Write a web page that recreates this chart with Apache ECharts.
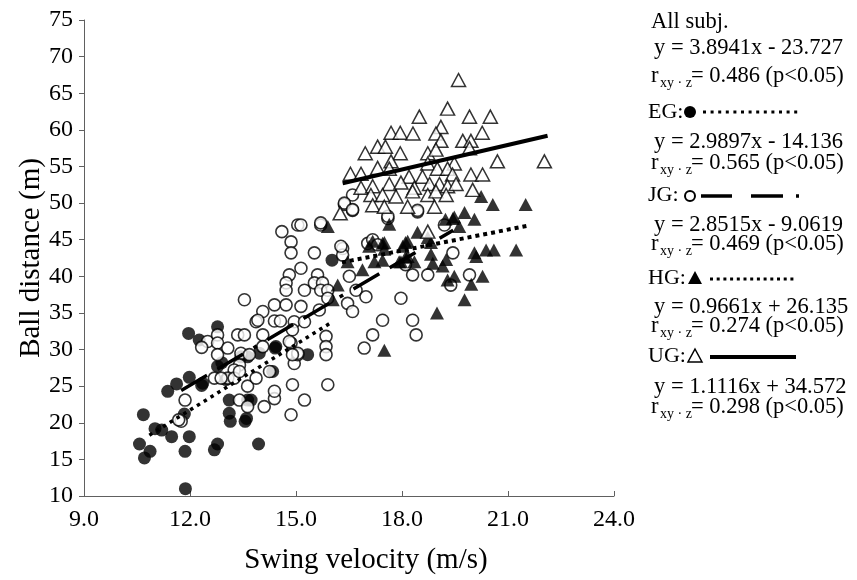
<!DOCTYPE html>
<html>
<head>
<meta charset="utf-8">
<script src="https://cdn.jsdelivr.net/npm/echarts@6/dist/echarts.min.js"></script>
<style>html,body{margin:0;padding:0;background:#fff}#c{width:857px;height:580px}</style>
</head>
<body>
<div id="c"></div>
<script>
// ---- data ----
const egData = [[11.87,11.0],[10.68,21.1],[11.01,19.2],[10.57,17.1],[10.87,16.1],[10.71,15.2],[11.48,18.1],[11.84,21.2],[11.98,18.1],[11.86,16.1],[11.37,24.3],[11.62,25.3],[11.98,26.2],[12.33,25.1],[11.96,32.2],[12.26,31.3],[12.78,33.1],[12.78,27.7],[13.11,23.1],[13.11,21.3],[13.14,20.2],[13.56,20.2],[12.69,16.3],[12.78,17.1],[13.94,17.1],[14.41,30.2],[13.63,23.1],[13.02,25.9],[13.63,29.0],[13.96,29.5],[14.34,27.0],[14.43,30.4],[15.33,29.3],[16.02,42.2],[12.9,28.2],[13.44,29.0],[13.6,20.6],[13.73,23.1],[12.36,25.4],[11.2,19.0]];
const jgData = [[13.54,36.8],[14.06,35.2],[14.39,36.1],[14.72,36.1],[13.87,33.8],[14.39,33.9],[14.56,33.9],[14.95,33.8],[12.5,31.1],[12.33,30.3],[12.78,32.0],[12.78,30.9],[12.78,29.3],[13.07,30.2],[13.35,32.0],[13.54,32.0],[14.06,32.0],[13.44,29.5],[13.68,29.3],[13.4,27.9],[13.25,27.2],[13.07,26.1],[12.69,26.1],[12.88,26.1],[13.25,26.1],[13.4,27.0],[13.63,25.0],[13.87,26.1],[13.4,23.1],[13.63,22.2],[14.1,22.2],[14.39,23.3],[14.39,24.3],[14.25,27.0],[14.86,21.1],[14.9,25.2],[14.95,28.1],[14.86,30.9],[15.05,29.3],[11.86,23.1],[11.75,20.2],[14.9,32.7],[11.68,20.4],
[15.05,47.0],[14.6,46.1],[14.86,44.7],[14.86,43.2],[15.52,43.2],[15.7,47.0],[16.6,49.0],[16.37,49.8],[17.6,47.9],[16.32,43.8],[16.32,42.9],[17.03,44.5],[17.17,45.0],[17.31,44.3],[15.14,41.1],[14.81,40.2],[14.72,39.1],[14.72,38.1],[15.24,38.1],[15.61,40.2],[15.52,39.1],[15.75,39.1],[15.7,38.1],[15.9,38.1],[15.9,37.0],[15.14,35.9],[13.92,34.0],[15.24,33.8],[15.66,35.4],[16.51,40.0],[16.7,38.1],[16.46,36.3],[16.6,35.2],[16.98,37.2],[15.85,31.8],[15.85,30.4],[15.85,29.3],[15.9,25.2],[15.24,23.1],[17.97,37.0],[17.45,34.0],[17.17,32.0],[16.93,30.2],[18.3,34.0],[18.4,32.0],[18.3,40.2],[15.05,29.5],[14.81,31.1],[14.06,30.4],[14.9,29.3],
[18.44,48.8],[19.44,43.2],[18.73,40.2],[19.91,40.2],[19.38,38.8],[19.2,47.0],[18.1,41.6],[16.6,51.1],[16.37,50.0],[16.6,49.1],[15.7,47.3],[17.6,48.2],[18.44,49.0],[15.14,47.0],[16.27,44.1]];
const hgData = [[15.9,46.8],[17.64,47.1],[20.24,50.9],[20.57,49.8],[21.5,49.8],[19.23,47.8],[19.48,48.1],[19.77,48.7],[20.05,47.8],[18.44,46.0],[18.73,45.3],[18.16,44.8],[17.17,44.8],[17.5,44.6],[19.62,46.8],[20.38,43.6],[20.6,43.6],[21.23,43.6],[20.05,43.2],[19.44,47.9],[18.1,44.6],[18.82,44.6],[17.5,43.7],[18.1,42.6],[18.82,43.0],[17.92,42.0],[18.35,42.0],[18.87,41.8],[19.15,41.4],[19.25,42.3],[20.1,42.7],[19.48,40.0],[19.96,38.9],[20.28,40.0],[19.77,36.8],[18.99,35.0],[17.5,29.9],[19.29,39.5],[16.46,42.0],[16.88,40.9],[16.18,38.8],[16.04,36.8],[17.22,42.0],[17.45,42.2],[17.07,44.1],[17.45,44.5],[17.97,42.0],[18.16,42.7],[18.02,44.1]];
const ugData = [[19.6,66.8],[19.29,62.9],[18.49,61.8],[19.91,61.8],[20.5,61.8],[19.1,60.4],[17.69,59.6],[17.95,59.6],[18.31,59.5],[18.96,59.5],[20.27,59.6],[17.31,57.7],[17.53,57.7],[19.72,58.5],[19.95,58.5],[19.1,58.5],[16.96,56.8],[17.95,56.8],[18.73,56.8],[18.96,57.3],[19.91,57.5],[20.7,55.7],[22.03,55.7],[17.69,55.7],[17.31,54.8],[19.48,55.4],[18.73,55.4],[16.54,54.0],[16.84,54.0],[17.64,54.7],[19.0,54.7],[19.29,54.7],[18.2,53.6],[18.58,53.6],[19.43,53.9],[19.95,53.9],[20.28,53.9],[16.84,52.1],[17.17,52.3],[17.64,52.6],[17.97,52.8],[18.35,52.1],[18.78,52.6],[19.06,52.6],[19.29,52.3],[19.53,52.6],[17.12,51.1],[17.45,51.1],[17.83,50.9],[18.3,51.6],[18.73,51.1],[18.96,51.6],[19.25,51.1],[20.0,51.8],[17.17,49.7],[17.5,49.5],[18.16,49.5],[18.92,49.5],[16.25,48.6],[18.73,46.1]];
// regression lines (end points)
const egLine = [[10.85,18.3],[16.0,33.7]];
const jgLine = [[11.75,24.4],[19.45,46.3]];
const hgLine = [[16.3,41.9],[21.55,46.9]];
const ugLine = [[16.32,52.7],[22.12,59.2]];
// axis
const xMin = 9, xMax = 24, xStep = 3;
const yMin = 10, yMax = 75, yStep = 5;
// legend text
const legendLines = [
  ['All subj.', 22],
  ['y = 3.8941x - 23.727', 48],
  ['r|0.486', 76],
  ['y = 2.9897x - 14.136', 142],
  ['r|0.565', 163],
  ['y = 2.8515x - 9.0619', 225],
  ['r|0.469', 244],
  ['y = 0.9661x + 26.135', 307],
  ['r|0.274', 326],
  ['y = 1.1116x + 34.572', 387],
  ['r|0.298', 407]
];
const groupLabels = [['EG:', 112], ['JG:', 195], ['HG:', 278], ['UG:', 356]];

const FONT = "'Liberation Serif','Times New Roman',serif";
const chart = echarts.init(document.getElementById('c'), null, {renderer: 'canvas'});

const graphics = [];
const LX = 651;
const FS = 22.5;
legendLines.forEach(([t, y]) => {
  if (t.startsWith('r|')) {
    const v = t.slice(2);
    graphics.push({type:'text', x:LX, y:y, style:{text:'r', fontSize:FS, fontFamily:FONT, fill:'#000', align:'left', verticalAlign:'middle'}});
    graphics.push({type:'text', x:LX+9, y:y+7, style:{text:'xy · z', fontSize:14, fontFamily:FONT, fill:'#000', align:'left', verticalAlign:'middle'}});
    graphics.push({type:'text', x:LX+40, y:y, style:{text:'= ' + v + ' (p<0.05)', fontSize:FS, fontFamily:FONT, fill:'#000', align:'left', verticalAlign:'middle'}});
  } else {
    graphics.push({type:'text', x:LX + (t.startsWith('y') ? 3 : 0), y:y, style:{text:t, fontSize:FS, fontFamily:FONT, fill:'#000', align:'left', verticalAlign:'middle'}});
  }
});
groupLabels.forEach(([t, y]) => {
  graphics.push({type:'text', x:LX - 3, y:y, style:{text:t, fontSize:22, fontFamily:FONT, fill:'#000', align:'left', verticalAlign:'middle'}});
});
// legend symbols
graphics.push({type:'circle', shape:{cx:690, cy:112, r:6}, style:{fill:'#000'}});
graphics.push({type:'line', shape:{x1:703, y1:112, x2:798, y2:112}, style:{stroke:'#000', lineWidth:3, lineDash:[3,4.6]}});
graphics.push({type:'circle', shape:{cx:690, cy:196, r:5}, style:{fill:'#fff', stroke:'#000', lineWidth:2}});
graphics.push({type:'line', shape:{x1:701, y1:196, x2:800, y2:196}, style:{stroke:'#000', lineWidth:3.5, lineDash:[31,19,32,13,3,50]}});
graphics.push({type:'polygon', shape:{points:[[695,271],[702,284],[688,284]]}, style:{fill:'#000'}});
graphics.push({type:'line', shape:{x1:710, y1:279, x2:796, y2:279}, style:{stroke:'#000', lineWidth:3, lineDash:[3,3.7]}});
graphics.push({type:'polygon', shape:{points:[[695,349],[702,362],[688,362]]}, style:{fill:'#fff', stroke:'#000', lineWidth:1.5}});
graphics.push({type:'line', shape:{x1:710, y1:357, x2:796, y2:357}, style:{stroke:'#000', lineWidth:4}});
// axis titles
graphics.push({type:'text', x:366, y:560, style:{text:'Swing velocity (m/s)', fontSize:29, fontFamily:FONT, fill:'#000', align:'center', verticalAlign:'middle'}});
graphics.push({type:'text', x:31, y:258, rotation:Math.PI/2, style:{text:'Ball distance (m)', fontSize:29, fontFamily:FONT, fill:'#000', align:'center', verticalAlign:'middle'}});

const lineSeries = (data, width, type) => ({
  type:'line', data:data, symbol:'none', showSymbol:false, silent:true, z:10,
  lineStyle:{color:'#000', width:width, type:type, cap:'butt'}
});

chart.setOption({
  animation:false,
  backgroundColor:'#fff',
  grid:{left:84, right:243, top:20, bottom:84, containLabel:false},
  xAxis:{
    type:'value', min:xMin, max:xMax, interval:xStep,
    axisLine:{show:true, lineStyle:{color:'#606060', width:1}},
    axisTick:{show:true, inside:true, length:5, lineStyle:{color:'#606060'}},
    splitLine:{show:false},
    axisLabel:{color:'#000', fontSize:24, fontFamily:FONT, margin:12, formatter:v => v.toFixed(1)}
  },
  yAxis:{
    type:'value', min:yMin, max:yMax, interval:yStep,
    axisLine:{show:true, lineStyle:{color:'#606060', width:1}},
    axisTick:{show:true, inside:false, length:5, lineStyle:{color:'#606060'}},
    splitLine:{show:false},
    axisLabel:{color:'#000', fontSize:24, fontFamily:FONT, margin:11}
  },
  series:[
    {type:'scatter', name:'EG', data:egData, symbol:'circle', symbolSize:13, z:2, itemStyle:{color:'#000'}},
    {type:'scatter', name:'JG', data:jgData, symbol:'circle', symbolSize:12, z:3, itemStyle:{color:'#fff', borderColor:'#000', borderWidth:1.6}},
    {type:'scatter', name:'HG', data:hgData, symbol:'triangle', symbolSize:[14,13], z:4, itemStyle:{color:'#000'}},
    {type:'scatter', name:'UG', data:ugData, symbol:'triangle', symbolSize:[14,13], z:5, itemStyle:{color:'#fff', borderColor:'#000', borderWidth:1.5}},
    lineSeries(egLine, 3.5, [3.5,4.5]),
    lineSeries(jgLine, 3.5, [30,12,30,12,4,12]),
    lineSeries(hgLine, 4, [4,4]),
    lineSeries(ugLine, 4, 'solid')
  ],
  graphic:graphics
});
</script>
</body>
</html>
